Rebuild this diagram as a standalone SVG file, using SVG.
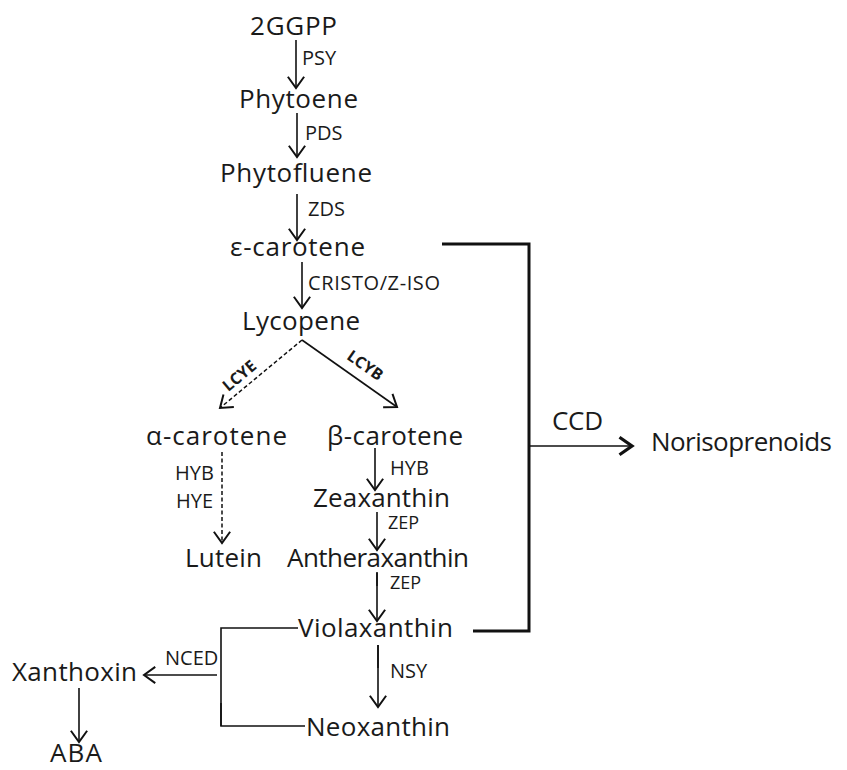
<svg xmlns="http://www.w3.org/2000/svg" width="847" height="770" viewBox="0 0 847 770">
<style>
.n{font-family:"Open Sans","Noto Sans",sans-serif;font-size:26px;fill:#1a1a1a}
.e{font-family:"Open Sans","Noto Sans",sans-serif;font-size:20px;fill:#1a1a1a}
.z{font-family:"Open Sans","Noto Sans",sans-serif;font-size:18px;fill:#1a1a1a}
.b{font-family:"Open Sans","Noto Sans",sans-serif;font-size:16px;font-weight:bold;fill:#1a1a1a}
.l{stroke:#111;stroke-width:1.6;fill:none}
.d{stroke:#111;stroke-width:1.5;fill:none;stroke-dasharray:4,2.5}
.k{stroke:#111;stroke-width:3;fill:none}
</style>
<defs>
<marker id="a" markerUnits="userSpaceOnUse" markerWidth="20" markerHeight="20" refX="0" refY="0" viewBox="-12 -8 14 16" orient="auto" overflow="visible">
<path d="M-9,-6.5 L0,0 L-9,6.5" fill="none" stroke="#111" stroke-width="1.6"/>
</marker>
<marker id="a2" markerUnits="userSpaceOnUse" markerWidth="20" markerHeight="20" refX="0" refY="0" viewBox="-12 -8 14 16" orient="auto" overflow="visible">
<path d="M-10,-7 L0,0 L-10,7" fill="none" stroke="#111" stroke-width="2.6"/>
</marker>
</defs>
<g id="nodes">
<g id="n-ggpp"><text class="n" x="250" y="35" textLength="87">2GGPP</text></g>
<g id="n-phytoene"><text class="n" x="239" y="108" textLength="119">Phytoene</text></g>
<g id="n-phytofluene"><text class="n" x="220" y="182" textLength="152">Phytofluene</text></g>
<g id="n-ecarotene"><text class="n" x="230" y="256" textLength="135">ε-carotene</text></g>
<g id="n-lycopene"><text class="n" x="242" y="330" textLength="118">Lycopene</text></g>
<g id="n-acarotene"><text class="n" x="146" y="445" textLength="141">α-carotene</text></g>
<g id="n-bcarotene"><text class="n" x="327" y="445" textLength="136">β-carotene</text></g>
<g id="n-lutein"><text class="n" x="185" y="567" textLength="77">Lutein</text></g>
<g id="n-zeaxanthin"><text class="n" x="313" y="507" textLength="137">Zeaxanthin</text></g>
<g id="n-antheraxanthin"><text class="n" x="287" y="567" textLength="182">Antheraxanthin</text></g>
<g id="n-violaxanthin"><text class="n" x="298" y="637" textLength="155">Violaxanthin</text></g>
<g id="n-neoxanthin"><text class="n" x="306" y="736" textLength="144">Neoxanthin</text></g>
<g id="n-xanthoxin"><text class="n" x="12" y="681" textLength="125">Xanthoxin</text></g>
<g id="n-aba"><text class="n" x="50" y="762" textLength="52">ABA</text></g>
<g id="n-norisoprenoids"><text class="n" x="651" y="451" textLength="181">Norisoprenoids</text></g>
</g>
<g id="connectors">
<line class="l" x1="296" y1="40" x2="296" y2="88" marker-end="url(#a)"/>
<line class="l" x1="297" y1="113" x2="297" y2="157" marker-end="url(#a)"/>
<line class="l" x1="297" y1="194" x2="297" y2="240" marker-end="url(#a)"/>
<line class="l" x1="302" y1="262" x2="302" y2="308" marker-end="url(#a)"/>
<line class="d" x1="302" y1="340" x2="220" y2="408" marker-end="url(#a)"/>
<line class="l" x1="302" y1="340" x2="397" y2="407" marker-end="url(#a)"/>
<line class="d" x1="222" y1="452" x2="222" y2="543" marker-end="url(#a)"/>
<line class="l" x1="375" y1="448" x2="375" y2="490" marker-end="url(#a)"/>
<line class="l" x1="377" y1="512" x2="377" y2="550" marker-end="url(#a)"/>
<line class="l" x1="377" y1="573" x2="377" y2="621" marker-end="url(#a)"/>
<line class="l" x1="377" y1="572" x2="377" y2="586" stroke-width="2.6"/>
<line class="l" x1="378" y1="645" x2="378" y2="707" marker-end="url(#a)"/>
<line class="l" x1="378" y1="645" x2="378" y2="668" stroke-width="2.4"/>
<polyline class="l" points="298,628 221,628 221,726 305,726"/>
<line class="l" x1="221" y1="703" x2="221" y2="726" stroke-width="2.6"/>
<line class="l" x1="217" y1="675" x2="144" y2="675" marker-end="url(#a)"/>
<line class="l" x1="79" y1="688" x2="79" y2="742" marker-end="url(#a)"/>
<polyline class="k" points="442,244 529,244 529,631 473,631"/>
<line class="l" x1="529" y1="446" x2="632" y2="446" stroke-width="2.6" marker-end="url(#a2)"/>
</g>
<g id="labels">
<text class="e" x="302" y="65">PSY</text>
<text class="e" x="305" y="140">PDS</text>
<text class="e" x="308" y="216">ZDS</text>
<text class="e" x="308" y="290" textLength="132">CRISTO/Z-ISO</text>
<text class="b" x="0" y="0" text-anchor="middle" transform="translate(243,380) rotate(-40)">LCYE</text>
<text class="b" x="0" y="0" text-anchor="middle" transform="translate(362,370) rotate(35)">LCYB</text>
<text class="e" x="175" y="480">HYB</text>
<text class="e" x="176" y="508">HYE</text>
<text class="e" x="390" y="475">HYB</text>
<text class="z" x="388" y="529">ZEP</text>
<text class="z" x="390" y="589">ZEP</text>
<text class="e" x="390" y="678">NSY</text>
<text class="e" x="165" y="665">NCED</text>
<text class="n" x="552" y="430" textLength="51">CCD</text>
</g>
</svg>
